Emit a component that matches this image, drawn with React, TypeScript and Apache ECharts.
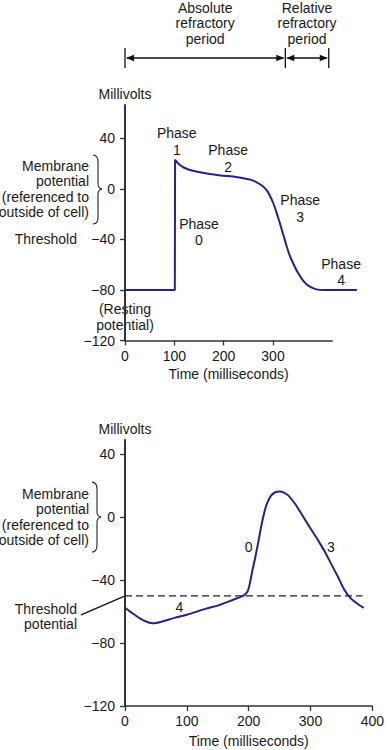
import React, { useEffect, useRef } from "react";
import * as echarts from "echarts";

// ---------- data ----------
// Top chart: ventricular action potential
const topTime = [0, 101, 101.5, 106, 112, 120, 130, 140, 155, 172, 190, 206, 225, 240, 255, 267, 278, 287, 294, 300.6, 307, 314, 321, 328, 334, 341, 350, 361, 373, 388, 402, 470];
const topMv = [-80, -80, 23, 21, 18.8, 16.8, 15.2, 14.2, 13, 11.8, 10.9, 10.3, 9.5, 8.5, 7.2, 5.3, 2.5, -1, -5.5, -11.3, -18.5, -27.2, -36.5, -45.7, -52.8, -59, -66, -72.5, -77, -79.5, -80, -80];
const topXTicks = [0, 100, 200, 300];
const topYTicks = [-120, -80, -40, 0, 40];
const topXMax = 420;
const topCurveXMax = 470;
const topYMax = 66.5;

const phaseNames = ["Phase\n1", "Phase\n2", "Phase\n3", "Phase\n0", "Phase\n4"];
const phaseTime = [105, 209, 355, 150, 438];
const phaseMv = [37.6, 24.2, -15.6, -34, -65.7];

const absoluteEnd = 325;
const relativeEnd = 413;

// Bottom chart: pacemaker (SA node) action potential
const botTime = [0, 10, 24, 35, 45, 60, 80, 100, 130, 152, 175, 189, 195, 199, 202, 206, 211, 216, 221, 226, 230, 236, 243, 250, 257, 264, 275, 285, 298, 312, 323, 333, 344, 355, 365, 376, 386];
const botMv = [-57.6, -60.5, -64.3, -66.5, -67.5, -66.3, -64, -62, -58.3, -55.9, -52.5, -50.4, -48.8, -46.5, -42, -34, -25, -15, -4.5, 4, 9, 13.5, 15.8, 16.3, 15.6, 13.8, 8.5, 2.3, -6, -14.6, -21.8, -29.4, -37.6, -46.3, -51.6, -55, -57.6];
const botXTicks = [0, 100, 200, 300, 400];
const botYTicks = [-120, -80, -40, 0, 40];
const botXMax = 400;
const botYMax = 49;
const thresholdMv = -50;
const thresholdEnd = 384;

const botPhaseNames = ["0", "3", "4"];
const botPhaseTime = [200, 333, 88];
const botPhaseMv = [-18.9, -19, -57];

// ---------- styles ----------
const FONT = '"Liberation Sans", Arial, Helvetica, sans-serif';
const TEXT = "#1a1a1a";
const AXIS = "#333333";
const CURVE = "#2a1f8f";
const FS = 14;

const fmt = (v: number) => (v < 0 ? "\u2212" + Math.abs(v) : String(v));

function makeAxes(xTicks: number[], yTicks: number[], xMax: number, yMax: number, gridIndex: number, nameGap: number) {
  const x = {
    type: "value",
    gridIndex,
    min: 0,
    max: xMax,
    name: "Time (milliseconds)",
    nameLocation: "middle",
    nameGap,
    nameTextStyle: { color: TEXT, fontSize: FS, fontFamily: FONT },
    axisLine: { show: true, onZero: false, lineStyle: { color: AXIS, width: 1.5 } },
    axisTick: { show: true, length: 5, lineStyle: { color: AXIS, width: 1.3 }, customValues: xTicks },
    axisLabel: { color: TEXT, fontSize: FS, fontFamily: FONT, margin: 8, customValues: xTicks, formatter: fmt },
    splitLine: { show: false },
  };
  const y = {
    type: "value",
    gridIndex,
    min: -120,
    max: yMax,
    name: "Millivolts",
    nameLocation: "end",
    nameGap: 4,
    nameTextStyle: { color: TEXT, fontSize: FS, fontFamily: FONT, align: "center", verticalAlign: "bottom" },
    axisLine: { show: true, onZero: false, lineStyle: { color: AXIS, width: 2 } },
    axisTick: { show: true, length: 5, lineStyle: { color: AXIS, width: 1.3 }, customValues: yTicks },
    axisLabel: { color: TEXT, fontSize: FS, fontFamily: FONT, margin: 10, customValues: yTicks, formatter: fmt },
    splitLine: { show: false },
  };
  return { x, y };
}

function textEl(x: number, y: number, text: string, align = "center", lh = 16) {
  return {
    type: "text",
    x,
    y,
    silent: true,
    style: { text, fill: TEXT, fontSize: FS, fontFamily: FONT, align, verticalAlign: "middle", lineHeight: lh },
  };
}

function brace(x0: number, yt: number, ym: number, yb: number) {
  const st = { stroke: "#222", lineWidth: 1.1, fill: null };
  const c = (x1: number, y1: number, cpx1: number, cpy1: number, cpx2: number, cpy2: number, x2: number, y2: number) => ({
    type: "bezierCurve",
    silent: true,
    shape: { x1, y1, cpx1, cpy1, cpx2, cpy2, x2, y2 },
    style: st,
  });
  const xm = x0 + 5;
  return [
    c(x0, yt, x0 + 4, yt, xm, yt + 3, xm, yt + 7),
    { type: "line", silent: true, shape: { x1: xm, y1: yt + 7, x2: xm, y2: ym - 5 }, style: st },
    c(xm, ym - 5, xm, ym - 2, xm + 2, ym, xm + 4, ym),
    c(xm + 4, ym, xm + 2, ym, xm, ym + 2, xm, ym + 5),
    { type: "line", silent: true, shape: { x1: xm, y1: ym + 5, x2: xm, y2: yb - 7 }, style: st },
    c(xm, yb - 7, xm, yb - 3, x0 + 4, yb, x0, yb),
  ];
}

function arrow(xa: number, xb: number, y: number) {
  const st = { stroke: "#111", lineWidth: 1.3 };
  const hl = 8;
  const hw = 3.2;
  return [
    { type: "line", silent: true, shape: { x1: xa + 2, y1: y, x2: xb - 2, y2: y }, style: st },
    { type: "polygon", silent: true, shape: { points: [[xa + 1, y], [xa + 1 + hl, y - hw], [xa + 1 + hl, y + hw]] }, style: { fill: "#111" } },
    { type: "polygon", silent: true, shape: { points: [[xb - 1, y], [xb - 1 - hl, y - hw], [xb - 1 - hl, y + hw]] }, style: { fill: "#111" } },
  ];
}

export default function App() {
  const ref = useRef<HTMLDivElement>(null);
  useEffect(() => {
    document.body.style.margin = "0";
    if (!ref.current) return;
    const chart = echarts.init(ref.current, undefined, { renderer: "svg" });
    const a0 = makeAxes(topXTicks, topYTicks, topXMax, topYMax, 0, 26);
    const a1 = makeAxes(botXTicks, botYTicks, botXMax, botYMax, 1, 28);
    const pxPerMs = 207.2 / topXMax;
    chart.setOption({
      animation: false,
      backgroundColor: "#ffffff",
      grid: [
        { left: 125, top: 105, width: 207.2, height: 235.5 },
        { left: 125, top: 440, width: 250, height: 266 },
        // same scale as grid 0, extended to the right so the trace runs past the axis end
        { left: 125, top: 105, width: pxPerMs * topCurveXMax, height: 235.5 },
      ],
      xAxis: [a0.x, a1.x, { type: "value", gridIndex: 2, min: 0, max: topCurveXMax, show: false }],
      yAxis: [a0.y, a1.y, { type: "value", gridIndex: 2, min: -120, max: topYMax, show: false }],
      series: [
        {
          type: "line",
          xAxisIndex: 2,
          yAxisIndex: 2,
          data: topTime.map((t, i) => [t, topMv[i]]),
          symbol: "none",
          smooth: 0.2,
          clip: false,
          lineStyle: { color: CURVE, width: 2 },
          z: 5,
        },
        {
          type: "line",
          xAxisIndex: 1,
          yAxisIndex: 1,
          data: [[0, thresholdMv], [thresholdEnd, thresholdMv]],
          symbol: "none",
          lineStyle: { color: "#222", width: 1.2, type: [7, 4] },
          z: 3,
        },
        {
          type: "line",
          xAxisIndex: 1,
          yAxisIndex: 1,
          data: botTime.map((t, i) => [t, botMv[i]]),
          symbol: "none",
          smooth: 0.3,
          clip: false,
          lineStyle: { color: CURVE, width: 2 },
          z: 5,
        },
      ],
    });

    const p0 = (t: number, v: number) => chart.convertToPixel({ seriesIndex: 0 }, [t, v]) as number[];
    const p1 = (t: number, v: number) => chart.convertToPixel({ seriesIndex: 2 }, [t, v]) as number[];

    const els: any[] = [];
    // refractory period annotation
    const xa = p0(0, 0)[0];
    const xb = p0(absoluteEnd, 0)[0];
    const xc = p0(relativeEnd, 0)[0];
    const ay = 58;
    els.push(textEl((xa + xb) / 2, 23, "Absolute\nrefractory\nperiod", "center", 15.5));
    els.push(textEl((xb + xc) / 2, 23, "Relative\nrefractory\nperiod", "center", 15.5));
    [xa, xb, xc].forEach((x) =>
      els.push({ type: "line", silent: true, shape: { x1: x, y1: 48, x2: x, y2: 68 }, style: { stroke: "#111", lineWidth: 1.3 } })
    );
    els.push(...arrow(xa, xb, ay));
    els.push(...arrow(xb, xc, ay));

    // phase labels, top chart
    phaseNames.forEach((n, i) => {
      const [x, y] = p0(phaseTime[i], phaseMv[i]);
      els.push(textEl(x, y, n, "center", 16.5));
    });
    // left annotations, top chart
    const z0 = p0(0, 0);
    els.push(textEl(89, z0[1], "Membrane\npotential\n(referenced to\noutside of cell)", "right", 15.5));
    els.push(...brace(93, z0[1] - 34, z0[1], z0[1] + 35));
    const th0 = p0(0, -40);
    els.push(textEl(77, th0[1], "Threshold", "right"));
    const r0 = p0(0, -80);
    els.push(textEl(r0[0], r0[1] + 27, "(Resting\npotential)", "center", 16));

    // bottom chart labels
    botPhaseNames.forEach((n, i) => {
      const [x, y] = p1(botPhaseTime[i], botPhaseMv[i]);
      els.push(textEl(x, y, n, "center"));
    });
    const z1 = p1(0, 0);
    els.push(textEl(89, z1[1], "Membrane\npotential\n(referenced to\noutside of cell)", "right", 15.5));
    els.push(...brace(92, z1[1] - 35, z1[1], z1[1] + 35));
    const th1 = p1(0, thresholdMv);
    els.push(textEl(77, th1[1] + 20.5, "Threshold\npotential", "right", 15.5));
    els.push({
      type: "line",
      silent: true,
      shape: { x1: 81, y1: th1[1] + 19, x2: th1[0] - 1, y2: th1[1] + 0.5 },
      style: { stroke: "#111", lineWidth: 1.3 },
    });

    chart.setOption({ graphic: { elements: els } });
    return () => chart.dispose();
  }, []);
  return <div ref={ref} style={{ width: 387, height: 750 }} />;
}
